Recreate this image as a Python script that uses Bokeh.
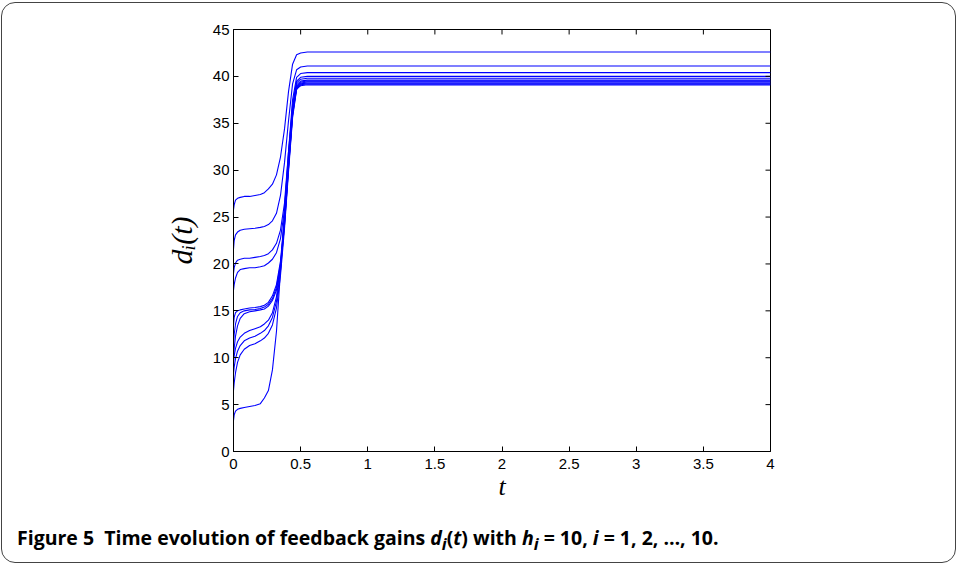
import numpy as np
from bokeh.plotting import figure
from bokeh.models import FixedTicker, Range1d, Div
from bokeh.layouts import column
from bokeh.embed import file_html
from bokeh.resources import INLINE

# ---------------- data ----------------
t_vals = [0, 0.005, 0.015, 0.03, 0.05, 0.08, 0.12, 0.16, 0.2, 0.23, 0.26, 0.29,
          0.32, 0.35, 0.38, 0.41, 0.44, 0.47, 0.5, 0.55, 0.6, 0.8, 4.0]

d1 = [25.8, 26.3, 26.8, 27.0, 27.1, 27.2, 27.2, 27.3, 27.4, 27.6, 28.0, 28.5, 29.5, 31.4, 34.4, 38.4, 41.3, 42.3, 42.5, 42.6, 42.6, 42.6, 42.6]
d2 = [21.6, 22.5, 23.1, 23.4, 23.6, 23.7, 23.75, 23.8, 23.9, 24.0, 24.2, 24.6, 25.4, 27.3, 30.8, 35.3, 39.2, 40.7, 41.0, 41.1, 41.1, 41.1, 41.1]
d3 = [19.0, 19.6, 20.1, 20.4, 20.5, 20.6, 20.6, 20.7, 20.8, 20.9, 21.1, 21.5, 22.2, 23.6, 26.5, 32.0, 37.5, 39.9, 40.3, 40.4, 40.4, 40.4, 40.4]
d4 = [17.2, 17.8, 18.5, 19.1, 19.4, 19.5, 19.6, 19.6, 19.7, 19.8, 20.1, 20.5, 21.2, 22.7, 25.8, 31.5, 37.0, 39.5, 39.9, 40.0, 40.0, 40.0, 40.0]
d5 = [13.5, 14.3, 14.8, 15.0, 15.1, 15.2, 15.3, 15.35, 15.45, 15.6, 15.9, 16.6, 17.8, 20.3, 25.0, 31.0, 36.6, 39.3, 39.7, 39.8, 39.8, 39.8, 39.8]
d6 = [11.5, 12.5, 13.6, 14.4, 14.8, 15.0, 15.1, 15.15, 15.25, 15.4, 15.7, 16.3, 17.5, 20.0, 24.6, 30.6, 36.3, 39.1, 39.5, 39.6, 39.6, 39.6, 39.6]
d7 = [10.0, 11.0, 12.3, 13.4, 14.2, 14.7, 14.9, 15.0, 15.1, 15.2, 15.5, 16.1, 17.2, 19.6, 24.2, 30.3, 36.0, 38.9, 39.4, 39.5, 39.5, 39.5, 39.5]
d8 = [9.5, 10.2, 11.0, 11.7, 12.2, 12.6, 12.9, 13.1, 13.3, 13.6, 14.0, 14.8, 16.5, 19.8, 24.5, 30.5, 36.0, 38.8, 39.3, 39.4, 39.4, 39.4, 39.4]
d9 = [8.3, 9.0, 9.9, 10.7, 11.3, 11.8, 12.1, 12.3, 12.6, 12.9, 13.4, 14.3, 16.0, 19.3, 24.2, 30.2, 35.8, 38.7, 39.2, 39.3, 39.3, 39.3, 39.3]
d10 = [6.5, 7.3, 8.4, 9.5, 10.3, 10.9, 11.3, 11.5, 11.8, 12.1, 12.6, 13.5, 15.3, 18.8, 23.8, 29.9, 35.6, 38.6, 39.1, 39.2, 39.2, 39.2, 39.2]
d11 = [3.3, 3.9, 4.3, 4.5, 4.6, 4.7, 4.8, 4.9, 5.1, 5.7, 6.5, 8.7, 12.8, 19.2, 25.8, 32.0, 36.6, 38.7, 39.0, 39.1, 39.1, 39.1, 39.1]

series = [d1, d2, d3, d4, d5, d6, d7, d8, d9, d10, d11]

x_ticks = [0, 0.5, 1, 1.5, 2, 2.5, 3, 3.5, 4]
x_tick_labels = ["0", "0.5", "1", "1.5", "2", "2.5", "3", "3.5", "4"]
y_ticks = [0, 5, 10, 15, 20, 25, 30, 35, 40, 45]
y_tick_labels = [str(v) for v in y_ticks]

x_min, x_max = 0, 4
y_min, y_max = 0, 45

# ---------------- figure ----------------
W, H = 953, 500
CAP_H = 59
FRAME_W, FRAME_H = 537, 424
p = figure(width=W, height=H, output_backend="svg", toolbar_location=None,
           x_range=Range1d(x_min, x_max), y_range=Range1d(y_min, y_max),
           min_border_left=231, min_border_right=W - 231 - FRAME_W,
           min_border_top=26, min_border_bottom=H - 26 - FRAME_H)
p.border_fill_alpha = 0
p.background_fill_color = "white"
p.outline_line_color = "black"
p.outline_line_width = 1
p.xgrid.visible = False
p.ygrid.visible = False

for s in series:
    p.line(t_vals, s, line_color="#0000ff", line_width=1.1)

# inner tick marks on the top and right edges (MATLAB box style)
tick_len_x = 5 * (y_max - y_min) / FRAME_H
tick_len_y = 5 * (x_max - x_min) / FRAME_W
p.segment(x0=x_ticks, y0=[y_max] * len(x_ticks), x1=x_ticks,
          y1=[y_max - tick_len_x] * len(x_ticks), line_color="black", line_width=1)
p.segment(x0=[x_max] * len(y_ticks), y0=y_ticks,
          x1=[x_max - tick_len_y] * len(y_ticks), y1=y_ticks,
          line_color="black", line_width=1)

xax = p.xaxis[0]
yax = p.yaxis[0]
for ax, ticks, labels in ((xax, x_ticks, x_tick_labels), (yax, y_ticks, y_tick_labels)):
    ax.ticker = FixedTicker(ticks=ticks)
    ax.major_label_overrides = {v: l for v, l in zip(ticks, labels)}
    ax.major_tick_in = 5
    ax.major_tick_out = 0
    ax.minor_tick_line_color = None
    ax.axis_line_color = "black"
    ax.major_tick_line_color = "black"
    ax.major_label_text_font = "Liberation Sans"
    ax.major_label_text_font_size = "15px"
    ax.major_label_text_color = "black"
    ax.axis_label_text_color = "black"
    ax.axis_label_text_font = "Liberation Serif"
    ax.axis_label_text_font_style = "italic"

xax.major_label_standoff = 7
yax.major_label_standoff = 4
xax.axis_label = "t"
xax.axis_label_text_font_size = "26px"
xax.axis_label_standoff = 0
yax.axis_label = "d\u1d62(t)"
yax.axis_label_text_font_size = "30px"
yax.axis_label_standoff = 12

caption = Div(
    text=('<b>Figure 5&nbsp;&nbsp;Time evolution of feedback gains '
          '<i>d<sub>i</sub></i>(<i>t</i>) with <i>h<sub>i</sub></i> = 10, '
          '<i>i</i> = 1, 2, &hellip;, 10.</b>'),
    width=W, height=CAP_H,
    styles={"font-family": "'Open Sans'", "font-size": "19.5px",
            "padding-left": "10px", "line-height": "60px", "color": "black",
            "overflow": "hidden"})

layout = column(p, caption,
                styles={"border": "1.5px solid #444444", "border-radius": "14px",
                        "margin-left": "1px", "margin-top": "2px",
                        "width": f"{W}px", "height": f"{H + CAP_H}px",
                        "box-sizing": "content-box", "overflow": "hidden"})

open("out.html", "w").write(file_html(layout, INLINE))
